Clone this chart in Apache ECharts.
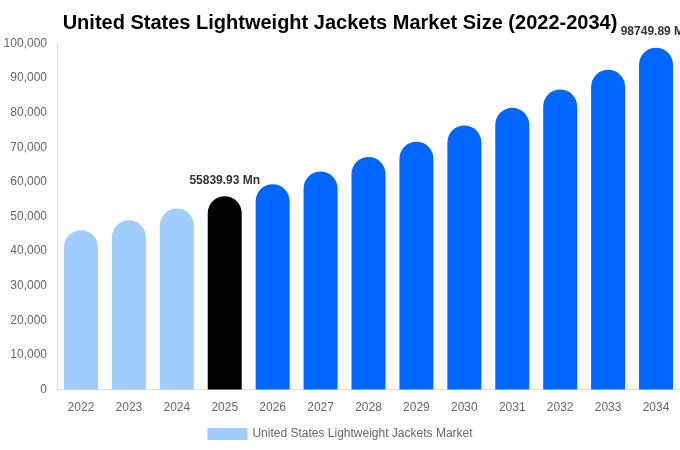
<!DOCTYPE html>
<html><head><meta charset="utf-8">
<script src="https://cdn.jsdelivr.net/npm/echarts@6/dist/echarts.min.js"></script>
<style>html,body{margin:0;padding:0;background:#fff}#c{width:680px;height:450px}</style>
</head><body><div id="c"></div>
<script>
const years = ['2022','2023','2024','2025','2026','2027','2028','2029','2030','2031','2032','2033','2034'];
const values = [46000, 48900, 52300, 55839.93, 59300, 63000, 67200, 71600, 76300, 81400, 86700, 92400, 98749.89];
const labelledYears = ['2025','2034'];
const yTicks = {min: 0, max: 100000, interval: 10000};
const colorPast = '#a0cdfd', colorCurrent = '#000000', colorFuture = '#0066ff';

const chart = echarts.init(document.getElementById('c'));
const data = values.map((v, i) => {
  const y = +years[i];
  const c = y < 2025 ? colorPast : (y === 2025 ? colorCurrent : colorFuture);
  return {
    value: v,
    itemStyle: {color: c, borderRadius: [17, 17, 0, 0]},
    label: {show: labelledYears.includes(years[i])}
  };
});
chart.setOption({
  animation: false,
  title: {text: 'United States Lightweight Jackets Market Size (2022-2034)', left: 'center', top: 8,
    textStyle: {fontFamily: 'Liberation Sans, Arial', fontSize: 20, fontWeight: 'bold', color: '#000'}},
  grid: {left: 57, right: 0, top: 43.5, bottom: 60.5},
  legend: {left: 'center', itemWidth: 40, itemHeight: 12, icon: 'rect',
    top: 423,
    textStyle: {fontFamily: 'Liberation Sans, Arial', fontSize: 12, color: '#666'},
    data: [{name: 'United States Lightweight Jackets Market', itemStyle: {color: colorPast}}]},
  xAxis: {type: 'category', data: years,
    axisLine: {lineStyle: {color: '#ddd'}}, axisTick: {show: false},
    axisLabel: {fontFamily: 'Liberation Sans, Arial', fontSize: 12, color: '#666', margin: 12}},
  yAxis: {type: 'value', min: yTicks.min, max: yTicks.max, interval: yTicks.interval,
    axisLine: {show: true, lineStyle: {color: '#ddd'}}, splitLine: {show: false},
    axisLabel: {fontFamily: 'Liberation Sans, Arial', fontSize: 12, color: '#666', margin: 10,
      formatter: v => v.toLocaleString('en-US')}},
  series: [{name: 'United States Lightweight Jackets Market', type: 'bar', barWidth: 34,
    data: data,
    label: {position: 'top', distance: 10, fontFamily: 'Liberation Sans, Arial', fontSize: 12, fontWeight: 'bold', color: '#333',
      formatter: p => p.value + ' Mn'}}]
});
</script></body></html>
